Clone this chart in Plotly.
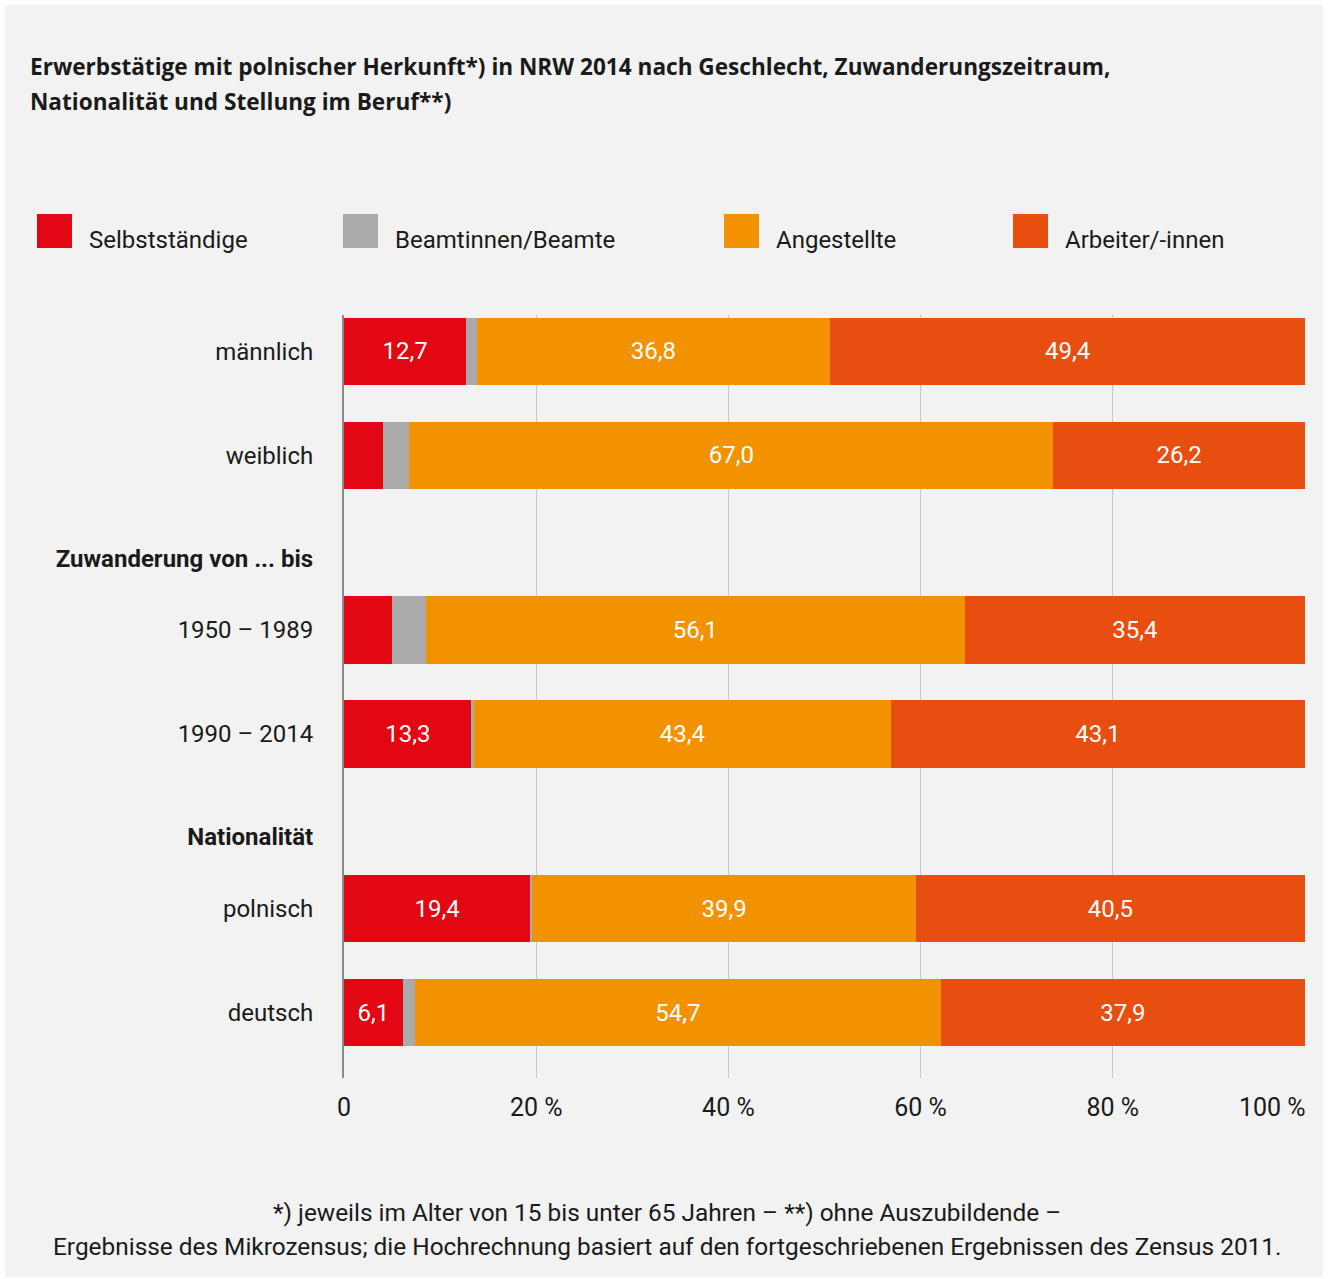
import plotly.graph_objects as go

# Employment status of people of Polish origin in NRW 2014 (shares in %)
rows = ["männlich", "weiblich", "1950 – 1989", "1990 – 2014", "polnisch", "deutsch"]
groups = [
    ("", ["männlich", "weiblich"]),
    ("Zuwanderung von ... bis", ["1950 – 1989", "1990 – 2014"]),
    ("Nationalität", ["polnisch", "deutsch"]),
]
series_names = ["Selbstständige", "Beamtinnen/Beamte", "Angestellte", "Arbeiter/-innen"]
selbststaendige = [12.7, 4.1, 5.0, 13.3, 19.4, 6.1]
beamte = [1.1, 2.7, 3.5, 0.2, 0.2, 1.3]
angestellte = [36.8, 67.0, 56.1, 43.4, 39.9, 54.7]
arbeiter = [49.4, 26.2, 35.4, 43.1, 40.5, 37.9]
x_ticks = [0, 20, 40, 60, 80, 100]
x_tick_labels = ["0", "20 %", "40 %", "60 %", "80 %", "100 %"]

colors = ["#e30613", "#aaaaaa", "#f39200", "#e84e10"]
FONT = "Roboto"
TITLE_FONT = "Open Sans"
TEXT = "#1a1a1a"
LABEL_MIN = 6.0

# vertical layout: rows one unit apart, group headers in narrower slots
pos = {}
tick_vals, tick_text = [], []
y = 0.0
for gi, (header, members) in enumerate(groups):
    if header:
        y += 0.99
        tick_vals.append(y)
        tick_text.append(f"<b>{header}</b>")
        y += 0.69
    for mi, name in enumerate(members):
        if gi > 0 or mi > 0:
            if not (header and mi == 0):
                y += 1.0
        pos[name] = y
        tick_vals.append(y)
        tick_text.append(name)

ypos = [pos[r] for r in rows]


def fmt(v):
    return f"{v:.1f}".replace(".", ",")


fig = go.Figure()
for name, vals, col in zip(series_names,
                           [selbststaendige, beamte, angestellte, arbeiter], colors):
    fig.add_trace(go.Bar(
        name=name, x=vals, y=ypos, orientation="h", width=0.65,
        marker=dict(color=col, line=dict(width=0)),
        text=[fmt(v) if v >= LABEL_MIN else "" for v in vals],
        textposition="inside", insidetextanchor="middle",
        textfont=dict(family=FONT, size=24, color="white"),
        constraintext="none",
        hoverinfo="x+y",
    ))

W, H = 1330, 1279
L, R, T, B = 344, 25, 315, 201

shapes = [dict(type="rect", xref="paper", yref="paper",
               x0=(5 - L) / (W - L - R), x1=(1323 - L) / (W - L - R),
               y0=(H - B - 1277) / (H - T - B), y1=(H - B - 5) / (H - T - B),
               fillcolor="#f2f2f2", line=dict(width=0), layer="below")]


def px_x(p):
    return (p - L) / (W - L - R)


def px_y(p):
    return (H - B - p) / (H - T - B)


annotations = []
# title
for line, yy in [("Erwerbstätige mit polnischer Herkunft*) in NRW 2014 nach Geschlecht, Zuwanderungszeitraum,", 66),
                 ("Nationalität und Stellung im Beruf**)", 101)]:
    annotations.append(dict(text=f"<b>{line}</b>", xref="paper", yref="paper",
                            x=px_x(28), y=px_y(yy), xanchor="left", yanchor="middle",
                            showarrow=False, font=dict(family=TITLE_FONT, size=22.6, color=TEXT)))

# legend
legend_x = [37, 343, 724, 1013]
for name, col, lx in zip(series_names, colors, legend_x):
    shapes.append(dict(type="rect", xref="paper", yref="paper",
                       x0=px_x(lx), x1=px_x(lx + 35), y0=px_y(248), y1=px_y(214),
                       fillcolor=col, line=dict(width=0)))
    annotations.append(dict(text=name, xref="paper", yref="paper",
                            x=px_x(lx + 50), y=px_y(240), xanchor="left", yanchor="middle",
                            showarrow=False, font=dict(family=FONT, size=24, color=TEXT)))

# last x tick label kept inside the panel
annotations.append(dict(text=x_tick_labels[-1], xref="x", yref="paper",
                        x=x_ticks[-1], y=px_y(1107), xanchor="right", yanchor="middle",
                        xshift=3, showarrow=False,
                        font=dict(family=FONT, size=25, color=TEXT)))

# footnote
for line, yy in [("*) jeweils im Alter von 15 bis unter 65 Jahren – **) ohne Auszubildende –", 1212),
                 ("Ergebnisse des Mikrozensus; die Hochrechnung basiert auf den fortgeschriebenen Ergebnissen des Zensus 2011.", 1246)]:
    annotations.append(dict(text=line, xref="paper", yref="paper",
                            x=px_x(667), y=px_y(yy), xanchor="center", yanchor="middle",
                            showarrow=False, font=dict(family=FONT, size=24.4, color=TEXT)))

fig.update_layout(
    width=W, height=H, barmode="stack", showlegend=False,
    margin=dict(l=L, r=R, t=T, b=B, autoexpand=False),
    paper_bgcolor="white", plot_bgcolor="rgba(0,0,0,0)",
    font=dict(family=FONT, size=24, color=TEXT),
    shapes=shapes, annotations=annotations,
    xaxis=dict(range=[0, 100], tickvals=x_ticks,
               ticktext=x_tick_labels[:-1] + [""],
               showgrid=True, gridcolor="#c8c8c8", gridwidth=1,
               zeroline=False, showline=False, ticks="",
               ticklabelstandoff=12, tickfont=dict(size=25, color=TEXT),
               fixedrange=True),
    yaxis=dict(range=[6.99, -0.35], tickvals=tick_vals, ticktext=tick_text,
               showgrid=False, zeroline=False, showline=True,
               linecolor="#8a8a8a", linewidth=2, ticks="",
               ticklabelstandoff=24, tickfont=dict(size=24, color=TEXT),
               fixedrange=True),
)

fig.write_html("out.html")
